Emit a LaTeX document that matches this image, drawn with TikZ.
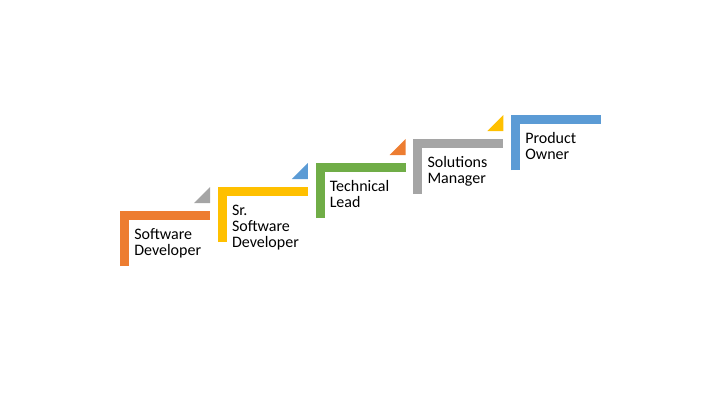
\documentclass[tikz,border=0pt]{standalone}
\usepackage{fontspec}
\setmainfont{Carlito}
\usetikzlibrary{positioning}
\definecolor{stepOrange}{HTML}{ED7D31}
\definecolor{stepYellow}{HTML}{FFC000}
\definecolor{stepGreen}{HTML}{70AD47}
\definecolor{stepGray}{HTML}{A5A5A5}
\definecolor{stepBlue}{HTML}{5B9BD5}

\begin{document}
\begin{tikzpicture}[x=0.75pt, y=-0.75pt,
    stair/.style={line width=6.75pt, line cap=butt, line join=miter},
    label/.style={anchor=base west, inner sep=0pt, align=left,
                  font=\fontsize{12pt}{12pt}\selectfont}]
  \useasboundingbox (0,0) rectangle (720,405);

  % Step 1
  \draw[stair, stepOrange] (124.5,266) -- (124.5,215.5) -- (210,215.5);
  \fill[stepGray] (194,203) -- (210,203) -- (210,187) -- cycle;
  \node[label] (dev) at (134,255) {Software\\Developer};

  % Step 2
  \draw[stair, stepYellow] (222.25,242) -- (222.25,191.5) -- (307.75,191.5);
  \fill[stepBlue] (291.75,179) -- (307.75,179) -- (307.75,163) -- cycle;
  \node[label] (srdev) at (231.75,247) {Sr.\\Software\\Developer};

  % Step 3
  \draw[stair, stepGreen] (320,218) -- (320,167.5) -- (405.5,167.5);
  \fill[stepOrange] (389.5,155) -- (405.5,155) -- (405.5,139) -- cycle;
  \node[label] (lead) at (329.5,207.5) {Technical\\Lead};

  % Step 4
  \draw[stair, stepGray] (417.75,194) -- (417.75,143.5) -- (503.25,143.5);
  \fill[stepYellow] (487.25,131) -- (503.25,131) -- (503.25,115) -- cycle;
  \node[label] (mgr) at (427.25,183.5) {Solutions\\Manager};

  % Step 5
  \draw[stair, stepBlue] (515.5,170) -- (515.5,119.5) -- (601,119.5);
  \node[label] (owner) at (525,159) {Product\\Owner};
\end{tikzpicture}
\end{document}
